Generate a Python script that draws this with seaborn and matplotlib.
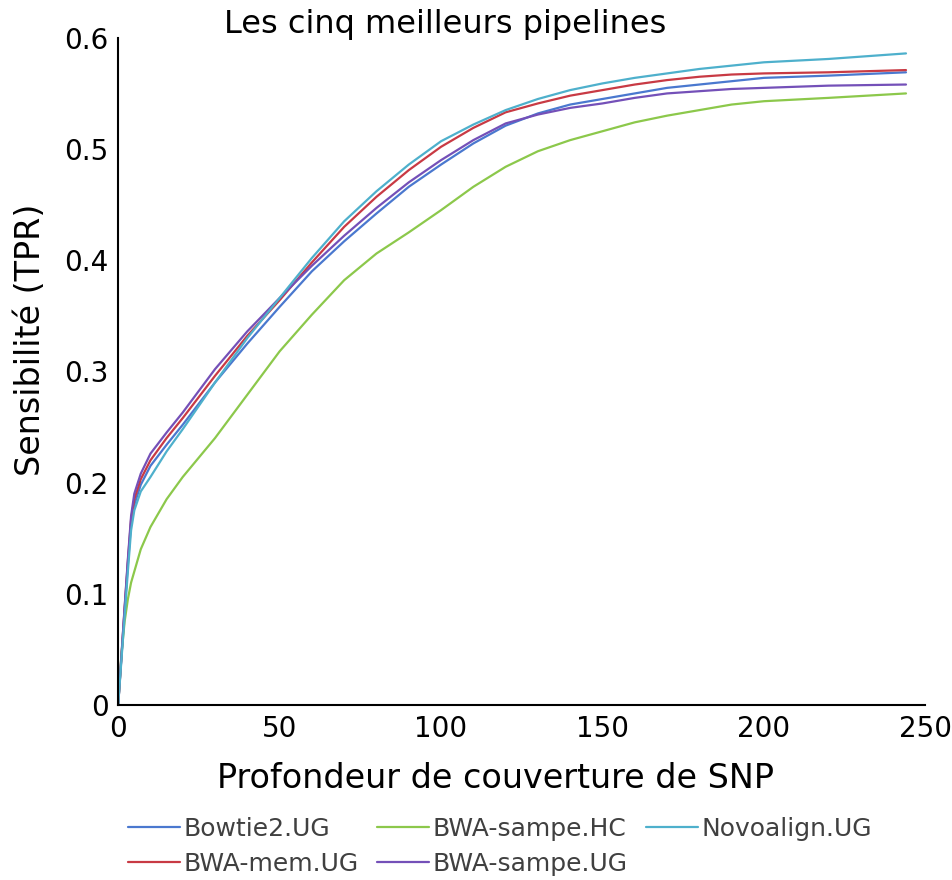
import matplotlib
matplotlib.use("Agg")
import matplotlib.pyplot as plt
import seaborn as sns
import pandas as pd
from matplotlib.ticker import FuncFormatter

# --- data ---
depth = [0, 1, 2, 3, 4, 5, 7, 10, 15, 20, 30, 40, 50, 60, 70, 80, 90, 100,
         110, 120, 130, 140, 150, 160, 170, 180, 190, 200, 220, 244]

bowtie2_ug = [0, 0.042, 0.085, 0.126, 0.163, 0.180, 0.198, 0.215, 0.234, 0.252, 0.290, 0.325,
              0.358, 0.390, 0.417, 0.442, 0.466, 0.486, 0.505, 0.521, 0.532, 0.540, 0.545,
              0.550, 0.555, 0.558, 0.561, 0.564, 0.566, 0.569]
bwa_mem_ug = [0, 0.043, 0.087, 0.129, 0.167, 0.185, 0.203, 0.220, 0.240, 0.258, 0.296, 0.332,
              0.364, 0.398, 0.430, 0.457, 0.481, 0.502, 0.519, 0.533, 0.541, 0.548, 0.553,
              0.558, 0.562, 0.565, 0.567, 0.568, 0.569, 0.571]
bwa_sampe_hc = [0, 0.045, 0.075, 0.095, 0.110, 0.120, 0.140, 0.160, 0.185, 0.205, 0.240, 0.279,
                0.318, 0.351, 0.382, 0.406, 0.425, 0.445, 0.466, 0.484, 0.498, 0.508, 0.516,
                0.524, 0.530, 0.535, 0.540, 0.543, 0.546, 0.550]
bwa_sampe_ug = [0, 0.044, 0.088, 0.131, 0.170, 0.190, 0.208, 0.226, 0.245, 0.263, 0.302, 0.336,
                0.366, 0.395, 0.422, 0.447, 0.470, 0.490, 0.508, 0.523, 0.531, 0.537, 0.541,
                0.546, 0.550, 0.552, 0.554, 0.555, 0.557, 0.558]
novoalign_ug = [0, 0.040, 0.080, 0.120, 0.157, 0.175, 0.192, 0.205, 0.228, 0.248, 0.290, 0.330,
                0.366, 0.402, 0.435, 0.462, 0.486, 0.507, 0.522, 0.535, 0.545, 0.553, 0.559,
                0.564, 0.568, 0.572, 0.575, 0.578, 0.581, 0.586]

pipelines = ["Bowtie2.UG", "BWA-mem.UG", "BWA-sampe.HC", "BWA-sampe.UG", "Novoalign.UG"]
series = [bowtie2_ug, bwa_mem_ug, bwa_sampe_hc, bwa_sampe_ug, novoalign_ug]
colors = ["#4a78cf", "#c83a44", "#8cc84b", "#7450b8", "#4eb0cc"]

x_ticks = [0, 50, 100, 150, 200, 250]
y_ticks = [0, 0.1, 0.2, 0.3, 0.4, 0.5, 0.6]

df = pd.DataFrame({
    "depth": depth * len(pipelines),
    "tpr": sum(series, []),
    "pipeline": sum([[p] * len(depth) for p in pipelines], []),
})

sns.set_theme(style="white")
plt.rcParams["font.family"] = ["DejaVu Sans"]

fig = plt.figure(figsize=(9.53, 8.8), dpi=100)
ax = fig.add_axes([0.124, 0.199, 0.847, 0.758])

sns.lineplot(data=df, x="depth", y="tpr", hue="pipeline", hue_order=pipelines,
             palette=dict(zip(pipelines, colors)), linewidth=1.6, ax=ax)

ax.set_xlim(0, 250)
ax.set_ylim(0, 0.6)
ax.set_xticks(x_ticks)
ax.set_yticks(y_ticks)
ax.yaxis.set_major_formatter(FuncFormatter(lambda v, p: "0" if v == 0 else f"{v:.1f}"))
ax.tick_params(axis="both", length=0, labelsize=20, colors="black", pad=7)
for s in ["top", "right"]:
    ax.spines[s].set_visible(False)
for s in ["left", "bottom"]:
    ax.spines[s].set_color("black")
    ax.spines[s].set_linewidth(1.5)

ax.set_xlabel("Profondeur de couverture de SNP", fontsize=24, color="black", labelpad=14)
ax.set_ylabel("Sensibilité (TPR)", fontsize=24, color="black", labelpad=12)
ax.xaxis.label.set_x(0.468)
ax.yaxis.label.set_y(0.547)

fig.text(445 / 953, 1 - 25 / 880, "Les cinq meilleurs pipelines", fontsize=23,
         ha="center", va="center", color="black")

sns.move_legend(ax, "upper left", bbox_to_anchor=(0.134, 0.072),
                bbox_transform=fig.transFigure, ncol=3, frameon=False, title=None,
                fontsize=18, handlelength=2.1, handletextpad=0.12, columnspacing=0.74,
                labelspacing=0.45, borderpad=0, borderaxespad=0)
for t in ax.get_legend().get_texts():
    t.set_color("#404040")

fig.savefig("out.png", dpi=100)
